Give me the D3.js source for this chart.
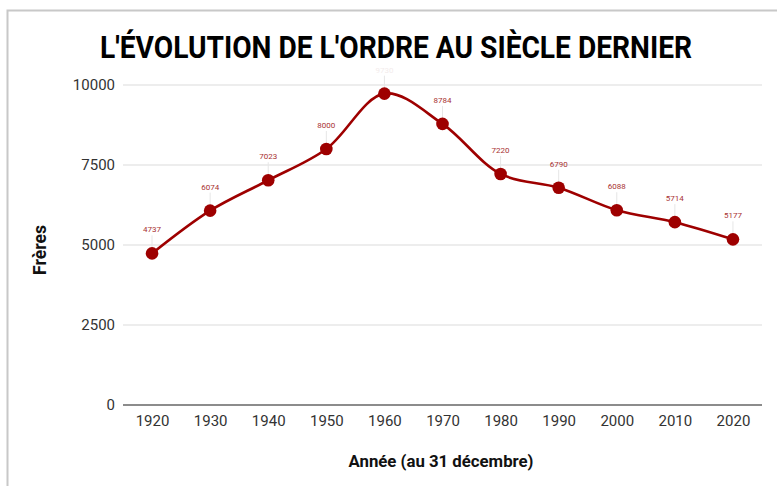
<!DOCTYPE html>
<html><head><meta charset="utf-8">
<script src="https://cdn.jsdelivr.net/npm/d3@7"></script>
<style>body{margin:0;background:#fff;}svg{display:block;font-family:Roboto,"Liberation Sans",Arial,sans-serif;}</style>
</head><body><svg id="c" width="777" height="486"></svg>
<script>
const years = ["1920","1930","1940","1950","1960","1970","1980","1990","2000","2010","2020"];
const freres = [4737, 6074, 7023, 8000, 9730, 8784, 7220, 6790, 6088, 5714, 5177];
const yTicks = [0, 2500, 5000, 7500, 10000];
const title = "L'ÉVOLUTION DE L'ORDRE AU SIÈCLE DERNIER";
const xTitle = "Année (au 31 décembre)";
const yTitle = "Frères";

const svg = d3.select("#c");
const red = "#9e0000";
// frame
svg.append("path").attr("d","M7.5,486 V10.5 H777").attr("fill","none").attr("stroke","#c8c8c8").attr("stroke-width",2);

const x = d3.scalePoint().domain(years).range([123,762]).padding(0.5);
const y = d3.scaleLinear().domain([0,10000]).range([405,85]);

// gridlines
svg.append("g").selectAll("line").data(yTicks.filter(d=>d>0)).join("line")
  .attr("x1",123).attr("x2",762).attr("y1",d=>y(d)).attr("y2",d=>y(d))
  .attr("stroke","#dcdcdc").attr("stroke-width",1.2);
// y axis labels
const ya = svg.append("g").attr("transform","translate(123,0)").call(d3.axisLeft(y).tickValues(yTicks).tickFormat(d3.format("d")).tickSize(0).tickPadding(8));
ya.select(".domain").remove();
ya.selectAll("text").attr("font-size",15).attr("fill","#333").attr("font-family","Roboto, sans-serif");
// x axis
const xa = svg.append("g").attr("transform","translate(0,405)").call(d3.axisBottom(x).tickSize(0).tickPadding(10));
xa.select(".domain").attr("stroke","#666").attr("stroke-width",1.5).attr("d","M123,0H762");
xa.selectAll("text").attr("font-size",15).attr("fill","#333").attr("font-family","Roboto, sans-serif");

// line
const data = years.map((yr,i)=>({yr, v:freres[i]}));
svg.append("path").datum(data)
  .attr("d", d3.line().x(d=>x(d.yr)).y(d=>y(d.v)).curve(d3.curveCatmullRom.alpha(0.5)))
  .attr("fill","none").attr("stroke",red).attr("stroke-width",2.6);
// leader lines
svg.append("g").selectAll("line").data(data).join("line")
  .attr("x1",d=>x(d.yr)).attr("x2",d=>x(d.yr)).attr("y1",d=>y(d.v)-18).attr("y2",d=>y(d.v))
  .attr("stroke","#e6e6e6").attr("stroke-width",1);
svg.append("g").selectAll("circle").data(data).join("circle")
  .attr("cx",d=>x(d.yr)).attr("cy",d=>y(d.v)).attr("r",6.3).attr("fill",red);
svg.append("g").selectAll("text").data(data).join("text")
  .attr("x",d=>x(d.yr)).attr("y",d=>y(d.v)-21).attr("text-anchor","middle")
  .attr("font-size",8).attr("fill",d=>d.yr==="1960"?"#f3ecec":"#a83232").text(d=>d.v);

// titles
svg.append("text").attr("x",396).attr("y",58).attr("text-anchor","middle")
  .attr("font-size",31).attr("font-weight",700).attr("fill","#000")
  .attr("textLength",592).attr("lengthAdjust","spacingAndGlyphs").text(title);
svg.append("text").attr("x",441).attr("y",467).attr("text-anchor","middle")
  .attr("font-size",17).attr("font-weight",700).attr("fill","#111")
  .attr("textLength",185).attr("lengthAdjust","spacingAndGlyphs").text(xTitle);
svg.append("text").attr("transform","translate(46,250) rotate(-90)").attr("text-anchor","middle")
  .attr("font-size",18).attr("font-weight",700).attr("fill","#111")
  .attr("textLength",50).attr("lengthAdjust","spacingAndGlyphs").text(yTitle);
</script></body></html>
